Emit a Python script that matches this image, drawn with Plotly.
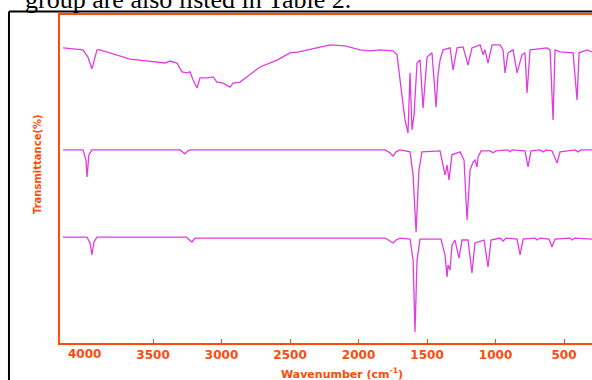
import plotly.graph_objects as go

# ---- data (wavenumber in cm^-1, transmittance in arbitrary % with offsets) ----
wn_top = [4157, 4011, 3975, 3946, 3909, 3887, 3668, 3449, 3413, 3376, 3325, 3289, 3252, 3230, 3208,
          3179, 3157, 3106, 3062, 3033, 2989, 2938, 2916, 2865, 2792, 2719, 2595, 2500, 2435, 2318,
          2208, 2099, 1989, 1916, 1843, 1748, 1719, 1697, 1683, 1661, 1639, 1624, 1610, 1595, 1573,
          1551, 1529, 1500, 1464, 1456, 1434, 1420, 1405, 1383, 1332, 1310, 1281, 1237, 1201, 1172,
          1113, 1091, 1077, 1055, 1026, 967, 945, 931, 909, 872, 843, 807, 785, 770, 748, 624, 602,
          580, 566, 529, 434, 405, 390, 332, 296]
tr_top = [89.7, 89.1, 86.9, 83.3, 89.1, 89.1, 86.3, 85.4, 85.1, 85.7, 85.1, 82.4, 82.1, 82.4, 80.0,
          77.5, 80.6, 80.6, 80.9, 79.3, 79.0, 77.8, 79.0, 79.3, 81.5, 83.9, 86.0, 88.2, 88.5, 89.7,
          90.6, 90.3, 89.1, 88.8, 89.1, 88.8, 87.6, 80.0, 74.8, 67.8, 63.8, 82.1, 64.8, 69.3, 85.1,
          86.0, 71.4, 86.9, 88.2, 83.0, 71.7, 81.5, 86.0, 89.1, 89.7, 83.0, 89.7, 90.0, 84.5, 89.7,
          90.6, 87.6, 89.1, 85.1, 90.6, 90.6, 89.1, 82.1, 88.2, 89.1, 82.1, 87.6, 88.2, 76.0, 89.1,
          89.7, 89.1, 67.8, 89.1, 88.5, 88.2, 73.9, 88.2, 89.1, 88.5]

wn_mid = [4157, 4011, 3989, 3982, 3968, 3946, 3303, 3281, 3267, 3245, 3230, 1807, 1770, 1748, 1726,
          1697, 1624, 1602, 1580, 1559, 1537, 1405, 1383, 1369, 1354, 1340, 1318, 1259, 1230, 1208,
          1186, 1179, 1164, 1150, 1135, 1128, 1106, 1040, 1018, 996, 909, 894, 880, 785, 763, 741,
          675, 653, 631, 588, 551, 529, 420, 398, 376, 296]
tr_mid = [58.7, 58.7, 55.6, 50.5, 57.2, 58.7, 58.7, 57.8, 57.5, 58.4, 58.7, 58.7, 57.8, 56.8, 58.1,
          58.7, 58.1, 51.1, 33.7, 52.6, 58.1, 58.4, 54.1, 51.1, 54.1, 49.6, 57.2, 58.1, 55.6, 37.4,
          52.6, 53.2, 55.0, 55.6, 53.5, 56.5, 58.4, 58.4, 57.8, 58.4, 58.7, 58.1, 58.7, 58.4, 53.5,
          58.4, 58.7, 58.1, 58.7, 58.4, 54.7, 58.1, 58.7, 58.1, 58.7, 58.7]

wn_bot = [4157, 3982, 3960, 3946, 3931, 3909, 3259, 3230, 3216, 3194, 1807, 1770, 1748, 1726, 1697,
          1624, 1602, 1588, 1573, 1551, 1398, 1369, 1354, 1347, 1332, 1318, 1296, 1267, 1245, 1201,
          1172, 1150, 1084, 1055, 1033, 967, 945, 923, 843, 821, 799, 712, 697, 675, 610, 588, 566,
          456, 442, 420, 296]
tr_bot = [32.2, 32.2, 30.4, 26.8, 30.7, 32.2, 32.2, 31.0, 30.7, 31.9, 31.9, 31.0, 30.4, 31.3, 31.9,
          31.6, 25.2, 3.3, 25.2, 31.6, 31.6, 26.8, 20.1, 23.7, 22.2, 29.8, 31.3, 25.8, 31.3, 31.3,
          21.3, 30.4, 31.3, 23.1, 31.3, 31.9, 31.0, 31.9, 31.6, 26.8, 31.6, 31.9, 31.3, 31.9, 31.6,
          29.2, 31.6, 31.9, 31.3, 31.9, 31.6]

tick_vals = [3500, 3000, 2500, 2000, 1500, 1000, 500]
tick_text = ["3500", "3000", "2500", "2000", "1500", "1000", "500"]
first_tick_val = 4000
first_tick_text = "4000"

ORANGE = "#FF4A0A"
MAGENTA = "#E03CE0"
TICKFONT = dict(family="DejaVu Sans", size=12, color=ORANGE, weight="bold")

fig = go.Figure()
for name, wn, tr in [("top", wn_top, tr_top), ("middle", wn_mid, tr_mid), ("bottom", wn_bot, tr_bot)]:
    fig.add_trace(go.Scatter(x=wn, y=tr, mode="lines", name=name,
                             line=dict(color=MAGENTA, width=1.3), showlegend=False,
                             hoverinfo="skip"))

fig.update_layout(
    width=592, height=380,
    margin=dict(l=60, r=0, t=14, b=37),
    paper_bgcolor="white", plot_bgcolor="white",
    xaxis=dict(range=[4179, 296], showgrid=False, zeroline=False,
               showline=True, linecolor=ORANGE, linewidth=2,
               tickmode="array", tickvals=tick_vals, ticktext=tick_text,
               ticks="inside", ticklen=4, tickcolor=ORANGE, tickwidth=1,
               tickfont=TICKFONT),
    yaxis=dict(range=[0, 100], showgrid=False, zeroline=False,
               showline=True, linecolor=ORANGE, linewidth=2,
               showticklabels=False, ticks=""),
    shapes=[
        # orange top border
        dict(type="line", xref="paper", yref="paper", x0=-0.004, x1=1.0, y0=1.0, y1=1.0,
             line=dict(color=ORANGE, width=2)),
        # black page frame (left and top)
        dict(type="line", xref="paper", yref="paper", x0=-0.0959, x1=-0.0959, y0=-0.13, y1=1.0076,
             line=dict(color="black", width=2)),
        dict(type="line", xref="paper", yref="paper", x0=-0.0959, x1=1.01, y0=1.0076, y1=1.0076,
             line=dict(color="black", width=2)),
    ],
    annotations=[
        dict(text="group are also listed in Table 2.", xref="paper", yref="paper",
             x=-0.0695, y=0.994, xanchor="left", yanchor="bottom", showarrow=False,
             font=dict(family="Liberation Serif", size=26, color="black")),
        dict(text="Transmittance(%)", xref="paper", yref="paper", x=-0.0432, y=0.544,
             xanchor="center", yanchor="middle", textangle=-90, showarrow=False,
             font=dict(family="DejaVu Sans", size=10, color=ORANGE, weight="bold")),
        dict(text="Wavenumber (cm<sup>-1</sup>)", xref="paper", yref="paper", x=0.530, y=-0.094,
             xanchor="center", yanchor="middle", showarrow=False,
             font=dict(family="DejaVu Sans", size=11, color=ORANGE, weight="bold")),
        # 4000 label (reference shows no tick mark at 4000)
        dict(text=first_tick_text, xref="x", yref="paper", x=first_tick_val, y=-0.0334,
             xanchor="center", yanchor="middle", showarrow=False, font=TICKFONT),
    ],
)

fig.write_html("out.html", config={"displayModeBar": False},
               post_script="document.body.style.margin='0';")
